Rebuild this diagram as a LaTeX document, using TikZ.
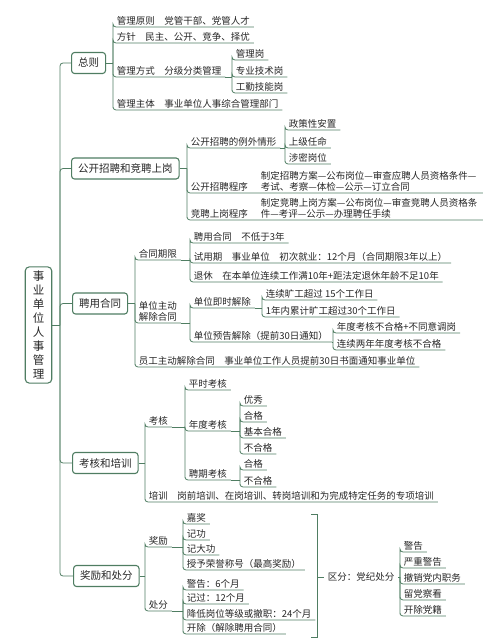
\documentclass[tikz,border=0pt]{standalone}
\usepackage{fontspec}
\setmainfont{Noto Sans CJK SC}
\usetikzlibrary{calc}
\definecolor{cline}{HTML}{4F7D62}
\definecolor{ctext}{HTML}{262626}
\tikzset{
  every picture/.style={x=1pt, y=-1pt, line width=0.8pt},
  rootbox/.style={draw=cline, rounded corners=4pt, line width=1.1pt, inner xsep=7.5pt, inner ysep=4pt, align=center, text=ctext, font=\fontsize{11.5}{14}\selectfont},
  topic/.style={draw=cline, rounded corners=3pt, line width=1.1pt, anchor=west, inner xsep=6.5pt, minimum height=21pt, text=ctext, font=\fontsize{10.5}{12}\selectfont},
  leaf/.style={anchor=south west, inner xsep=3.5pt, inner ysep=1.6pt, align=left, text=ctext, font=\fontsize{9.5}{11}\selectfont},
  link/.style={draw=cline, line width=0.8pt, rounded corners=3pt},
}

\begin{document}
\begin{tikzpicture}
  \useasboundingbox (0,0) rectangle (500,644);
  \node[rootbox] (root) at (38.5,325) {事\\业\\单\\位\\人\\事\\管\\理};
  \coordinate (tr) at (60,325);
  \node[topic] (zz) at (71,63) {总则};
  \node[topic] (gk) at (71,168.5) {公开招聘和竞聘上岗};
  \node[topic] (py) at (72,303.5) {聘用合同};
  \node[topic] (kh) at (72,463) {考核和培训};
  \node[topic] (jc) at (73,576) {奖励和处分};
  \draw[link] (root.east) -- (tr);
  \foreach \n in {zz,gk,py,kh,jc}
    \draw[link] (tr) |- (\n.west);

  \coordinate (zzb) at (113,63);
  \node[leaf] (zz1) at (113,27) {管理原则\quad 党管干部、党管人才};
  \node[leaf] (zz2) at (113,43) {方针\quad 民主、公开、竞争、择优};
  \node[leaf] (zz3) at (113,77) {管理方式\quad 分级分类管理};
  \node[leaf] (zz4) at (113,110) {管理主体\quad 事业单位人事综合管理部门};
  \draw[link] (zz.east) -- (zzb);
  \foreach \n in {zz1,zz2,zz3,zz4}
    \draw[link] (zzb) |- (\n.south west) -- (\n.south east);
  \coordinate (zz3b) at (232,77);
  \node[leaf] (zz31) at (232,60) {管理岗};
  \node[leaf] (zz32) at (232,77) {专业技术岗};
  \node[leaf] (zz33) at (232,93) {工勤技能岗};
  \draw[link] (zz3.south east) -- (zz3b);
  \foreach \n in {zz31,zz32,zz33}
    \draw[link] (zz3b) |- (\n.south west) -- (\n.south east);

  \coordinate (gkb) at (187,168.5);
  \node[leaf] (gk1) at (187,148) {公开招聘的例外情形};
  \node[leaf] (gk2) at (187,193) {公开招聘程序};
  \node[leaf, text width=218pt] (gk2d) at (257,193) {制定招聘方案—公布岗位—审查应聘人员资格条件—\\考试、考察—体检—公示—订立合同};
  \node[leaf] (gk3) at (187,220) {竞聘上岗程序};
  \node[leaf, text width=218pt] (gk3d) at (257,220) {制定竞聘上岗方案—公布岗位—审查竞聘人员资格条\\件—考评—公示—办理聘任手续};
  \draw[link] (gk.east) -- (gkb);
  \draw[link] (gkb) |- (gk1.south west) -- (gk1.south east);
  \draw[link] (gkb) |- (gk2.south west) -- (gk2d.south east);
  \draw[link] (gkb) |- (gk3.south west) -- (gk3d.south east);
  \coordinate (gk1b) at (285,148);
  \node[leaf] (gk11) at (285,130) {政策性安置};
  \node[leaf] (gk12) at (285,148) {上级任命};
  \node[leaf] (gk13) at (285,164) {涉密岗位};
  \draw[link] (gk1.south east) -- (gk1b);
  \foreach \n in {gk11,gk12,gk13}
    \draw[link] (gk1b) |- (\n.south west) -- (\n.south east);

  \coordinate (pyb) at (135,303.5);
  \node[leaf] (py1) at (135,260) {合同期限};
  \node[leaf] (py2) at (135,323) {单位主动\\解除合同};
  \node[leaf] (py3) at (135,367) {员工主动解除合同\quad 事业单位工作人员提前30日书面通知事业单位};
  \draw[link] (py.east) -- (pyb);
  \foreach \n in {py1,py2,py3}
    \draw[link] (pyb) |- (\n.south west) -- (\n.south east);
  \coordinate (py1b) at (190,260);
  \node[leaf] (py11) at (190,243) {聘用合同\quad 不低于3年};
  \node[leaf] (py12) at (190,263) {试用期\quad 事业单位\quad 初次就业：12个月（合同期限3年以上）};
  \node[leaf] (py13) at (190,282) {退休\quad 在本单位连续工作满10年+距法定退休年龄不足10年};
  \draw[link] (py1.south east) -- (py1b);
  \foreach \n in {py11,py12,py13}
    \draw[link] (py1b) |- (\n.south west) -- (\n.south east);
  \coordinate (py2b) at (190,323);
  \node[leaf] (py21) at (190,308) {单位即时解除};
  \node[leaf] (py22) at (190,342) {单位预告解除（提前30日通知）};
  \draw[link] (py2.south east) -- (py2b);
  \foreach \n in {py21,py22}
    \draw[link] (py2b) |- (\n.south west) -- (\n.south east);
  \coordinate (py21b) at (262,308);
  \node[leaf] (py211) at (262,300) {连续旷工超过 15个工作日};
  \node[leaf] (py212) at (262,317) {1年内累计旷工超过30个工作日};
  \draw[link] (py21.south east) -- (py21b);
  \foreach \n in {py211,py212}
    \draw[link] (py21b) |- (\n.south west) -- (\n.south east);
  \coordinate (py22b) at (333,342);
  \node[leaf] (py221) at (333,333) {年度考核不合格+不同意调岗};
  \node[leaf] (py222) at (333,350) {连续两年年度考核不合格};
  \draw[link] (py22.south east) -- (py22b);
  \foreach \n in {py221,py222}
    \draw[link] (py22b) |- (\n.south west) -- (\n.south east);

  \coordinate (khb) at (145,463);
  \node[leaf] (kh1) at (145,427) {考核};
  \node[leaf] (kh2) at (145,502) {培训\quad 岗前培训、在岗培训、转岗培训和为完成特定任务的专项培训};
  \draw[link] (kh.east) -- (khb);
  \foreach \n in {kh1,kh2}
    \draw[link] (khb) |- (\n.south west) -- (\n.south east);
  \coordinate (kh1b) at (185,427);
  \node[leaf] (kh11) at (185,390) {平时考核};
  \node[leaf] (kh12) at (185,431) {年度考核};
  \node[leaf] (kh13) at (185,480) {聘期考核};
  \draw[link] (kh1.south east) -- (kh1b);
  \foreach \n in {kh11,kh12,kh13}
    \draw[link] (kh1b) |- (\n.south west) -- (\n.south east);
  \coordinate (kh12b) at (240,431);
  \node[leaf] (kh121) at (240,406) {优秀};
  \node[leaf] (kh122) at (240,422) {合格};
  \node[leaf] (kh123) at (240,438) {基本合格};
  \node[leaf] (kh124) at (240,454) {不合格};
  \draw[link] (kh12.south east) -- (kh12b);
  \foreach \n in {kh121,kh122,kh123,kh124}
    \draw[link] (kh12b) |- (\n.south west) -- (\n.south east);
  \coordinate (kh13b) at (240,480);
  \node[leaf] (kh131) at (240,470) {合格};
  \node[leaf] (kh132) at (240,487) {不合格};
  \draw[link] (kh13.south east) -- (kh13b);
  \foreach \n in {kh131,kh132}
    \draw[link] (kh13b) |- (\n.south west) -- (\n.south east);

  \coordinate (jcb) at (145,576);
  \node[leaf] (jc1) at (145,547) {奖励};
  \node[leaf] (jc2) at (145,611) {处分};
  \draw[link] (jc.east) -- (jcb);
  \foreach \n in {jc1,jc2}
    \draw[link] (jcb) |- (\n.south west) -- (\n.south east);
  \coordinate (jc1b) at (183,547);
  \node[leaf] (jc11) at (183,524) {嘉奖};
  \node[leaf] (jc12) at (183,540) {记功};
  \node[leaf] (jc13) at (183,555) {记大功};
  \node[leaf] (jc14) at (183,570) {授予荣誉称号（最高奖励）};
  \draw[link] (jc1.south east) -- (jc1b);
  \foreach \n in {jc11,jc12,jc13,jc14}
    \draw[link] (jc1b) |- (\n.south west) -- (\n.south east);
  \coordinate (jc2b) at (183,611);
  \node[leaf] (jc21) at (183,590) {警告：6个月};
  \node[leaf] (jc22) at (183,604) {记过：12个月};
  \node[leaf] (jc23) at (183,620) {降低岗位等级或撤职：24个月};
  \node[leaf] (jc24) at (183,634) {开除（解除聘用合同）};
  \draw[link] (jc2.south east) -- (jc2b);
  \foreach \n in {jc21,jc22,jc23,jc24}
    \draw[link] (jc2b) |- (\n.south west) -- (\n.south east);

  \coordinate (brt) at (317,514);
  \coordinate (brb) at (317,637);
  \draw[link, rounded corners=0pt] ($(brt)+(-6,0)$) -- (brt) -- (brb) -- ++(-6,0);
  \node[leaf, anchor=west, font=\fontsize{9.5}{11}\selectfont] (dk) at (324,577) {区分：党纪处分};
  \coordinate (dkb) at (400,577);
  \draw[link] (brt |- dk.west) -- (dk.west);
  \draw[link] (dk.east) -- (dkb);
  \node[leaf] (dk1) at (400,552) {警告};
  \node[leaf] (dk2) at (400,568) {严重警告};
  \node[leaf] (dk3) at (400,584) {撤销党内职务};
  \node[leaf] (dk4) at (400,600) {留党察看};
  \node[leaf] (dk5) at (400,616) {开除党籍};
  \foreach \n in {dk1,dk2,dk3,dk4,dk5}
    \draw[link] (dkb) |- (\n.south west) -- (\n.south east);
\end{tikzpicture}
\end{document}
